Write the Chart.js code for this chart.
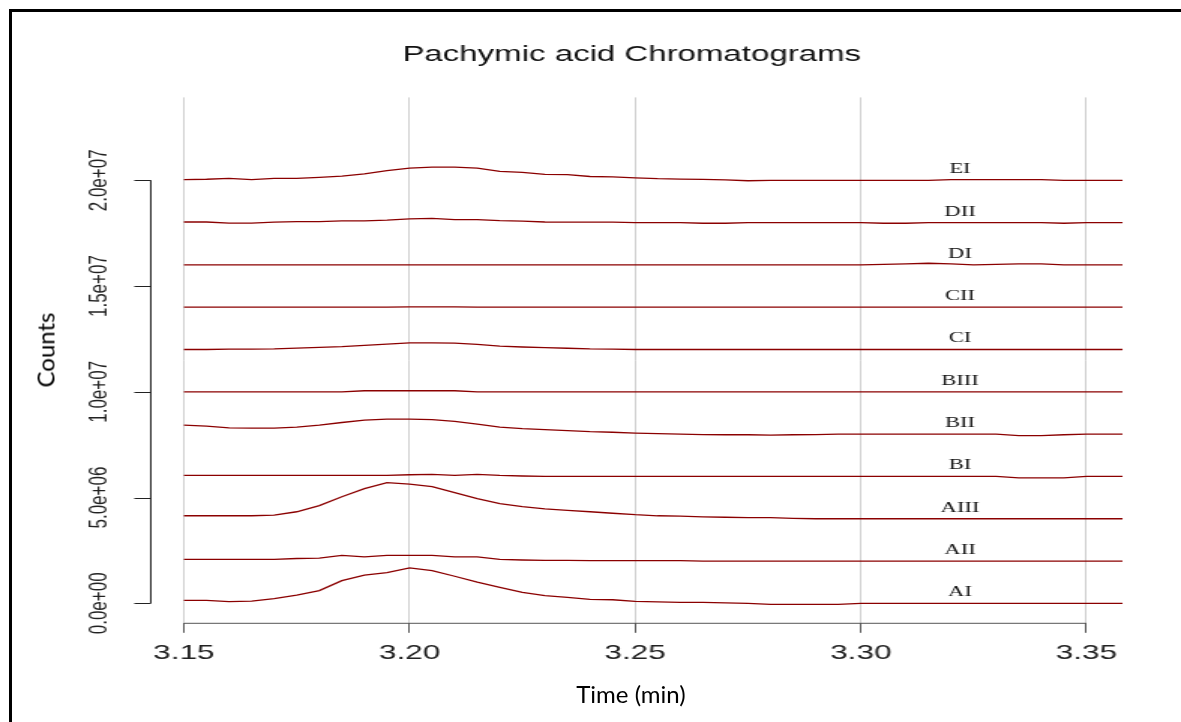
<!DOCTYPE html>
<html>
<head>
<meta charset="utf-8">
<title>Pachymic acid Chromatograms</title>
<script src="https://cdn.jsdelivr.net/npm/chart.js@4.4.1/dist/chart.umd.min.js"></script>
<style>
  html, body { margin: 0; padding: 0; background: #fff; overflow: hidden; }
  #page { position: relative; width: 1181px; height: 722px; overflow: hidden; background: #fff; }
  #frame { position: absolute; left: 9px; top: 9px; width: 1200px; height: 740px; border-left: 3px solid #000; border-top: 3px solid #000; }
  /* the R plot in the reference is stretched horizontally, so the canvas is too */
  #plot { position: absolute; left: 0; top: 0; width: 787px; height: 722px; transform: scaleX(1.5006); transform-origin: 0 0; }
  .cap { position: absolute; font-family: Lato, "Open Sans", sans-serif; font-size: 24px; color: #000; white-space: nowrap; }
  #ytitle { left: 45px; top: 350px; transform: translate(-50%, -50%) rotate(-90deg); }
  #xtitle { left: 631px; top: 693px; transform: translate(-50%, -50%); }
</style>
</head>
<body>
<div id="page">
  <div id="frame"></div>
  <div id="plot"><canvas id="chromChart" width="787" height="722"></canvas></div>
  <div class="cap" id="ytitle">Counts</div>
  <div class="cap" id="xtitle">Time (min)</div>
</div>
<script>
// retention time (min)
const times = [3.150, 3.155, 3.160, 3.165, 3.170, 3.175, 3.180, 3.185, 3.190, 3.195,
  3.200, 3.205, 3.210, 3.215, 3.220, 3.225, 3.230, 3.235, 3.240, 3.245,
  3.250, 3.255, 3.260, 3.265, 3.270, 3.275, 3.280, 3.285, 3.290, 3.295,
  3.300, 3.305, 3.310, 3.315, 3.320, 3.325, 3.330, 3.335, 3.340, 3.345,
  3.350, 3.355, 3.358];

// sample names, bottom to top, and the vertical offset of each trace (millions of counts)
const samples = ['AI', 'AII', 'AIII', 'BI', 'BII', 'BIII', 'CI', 'CII', 'DI', 'DII', 'EI'];
const offsets = [0, 2, 4, 6, 8, 10, 12, 14, 16, 18, 20];

// intensities above each trace's baseline (millions of counts)
const AI = [0.14, 0.14, 0.08, 0.10, 0.22, 0.39, 0.60, 1.07, 1.33, 1.45,
  1.68, 1.55, 1.28, 1.00, 0.76, 0.52, 0.36, 0.28, 0.19, 0.17,
  0.09, 0.07, 0.05, 0.05, 0.02, 0.00, -0.05, -0.05, -0.05, -0.05,
  0.00, 0, 0, 0, 0, 0, 0, 0, 0, 0, 0, 0, 0];
const AII = [0.08, 0.08, 0.08, 0.08, 0.08, 0.12, 0.14, 0.27, 0.20, 0.27,
  0.27, 0.27, 0.20, 0.20, 0.08, 0.05, 0.03, 0.03, 0.02, 0.02,
  0.02, 0.02, 0.02, 0, 0, 0, 0, 0, 0, 0,
  0, 0, 0, 0, 0, 0, 0, 0, 0, 0, 0, 0, 0];
const AIII = [0.14, 0.14, 0.14, 0.14, 0.17, 0.33, 0.62, 1.04, 1.42, 1.71,
  1.64, 1.52, 1.23, 0.95, 0.71, 0.57, 0.47, 0.40, 0.33, 0.26,
  0.19, 0.14, 0.12, 0.09, 0.07, 0.05, 0.05, 0.02, 0, 0,
  0, 0, 0, 0, 0, 0, 0, 0, 0, 0, 0, 0, 0];
const BI = [0.05, 0.05, 0.05, 0.05, 0.05, 0.05, 0.05, 0.05, 0.05, 0.05,
  0.08, 0.10, 0.05, 0.10, 0.05, 0.02, 0, 0, 0, 0,
  0, 0, 0, 0, 0, 0, 0, 0, 0, 0,
  0, 0, 0, 0, 0, 0, 0, -0.07, -0.07, -0.07, 0, 0, 0];
const BII = [0.43, 0.38, 0.30, 0.28, 0.28, 0.33, 0.43, 0.55, 0.66, 0.71,
  0.71, 0.69, 0.60, 0.47, 0.33, 0.26, 0.21, 0.17, 0.12, 0.09,
  0.05, 0.02, 0.00, -0.02, -0.03, -0.03, -0.05, -0.03, -0.02, 0,
  0, 0, 0, 0, 0, 0, 0, -0.07, -0.07, -0.03, 0, 0, 0];
const BIII = [0, 0, 0, 0, 0, 0, 0, 0, 0.05, 0.05,
  0.05, 0.05, 0.05, 0, 0, 0, 0, 0, 0, 0,
  0, 0, 0, 0, 0, 0, 0, 0, 0, 0,
  0, 0, 0, 0, 0, 0, 0, 0, 0, 0, 0, 0, 0];
const CI = [0, 0, 0.02, 0.02, 0.03, 0.07, 0.10, 0.14, 0.20, 0.26,
  0.31, 0.31, 0.30, 0.24, 0.16, 0.12, 0.09, 0.06, 0.03, 0.02,
  0, 0, 0, 0, 0, 0, 0, 0, 0, 0,
  0, 0, 0, 0, 0, 0, 0, 0, 0, 0, 0, 0, 0];
const CII = [0, 0, 0, 0, 0, 0, 0, 0, 0, 0,
  0.02, 0.02, 0.02, 0, 0, 0, 0, 0, 0, 0,
  0, 0, 0, 0, 0, 0, 0, 0, 0, 0,
  0, 0, 0, 0, 0, 0, 0, 0, 0, 0, 0, 0, 0];
const DI = [0, 0, 0, 0, 0, 0, 0, 0, 0, 0,
  0, 0, 0, 0, 0, 0, 0, 0, 0, 0,
  0, 0, 0, 0, 0, 0, 0, 0, 0, 0,
  0, 0.03, 0.05, 0.08, 0.05, 0, 0.03, 0.05, 0.05, 0, 0, 0, 0];
const DII = [0.03, 0.03, -0.02, -0.02, 0.02, 0.05, 0.05, 0.08, 0.08, 0.12,
  0.18, 0.20, 0.14, 0.14, 0.09, 0.07, 0.03, 0.02, 0.02, 0.02,
  0, 0, 0, -0.03, -0.03, 0, 0, 0, 0, 0,
  0, -0.03, -0.03, 0, 0, 0, 0, 0, 0, -0.03, 0, 0, 0];
const EI = [0.03, 0.05, 0.09, 0.03, 0.09, 0.09, 0.14, 0.20, 0.30, 0.46,
  0.58, 0.62, 0.62, 0.58, 0.42, 0.38, 0.28, 0.27, 0.18, 0.16,
  0.12, 0.08, 0.06, 0.04, 0.02, -0.02, 0, 0, 0, 0,
  0, 0, 0, 0, 0.03, 0.03, 0.03, 0.03, 0.03, 0, 0, 0, 0];

const traces = [AI, AII, AIII, BI, BII, BIII, CI, CII, DI, DII, EI];

const xTicks = [3.15, 3.20, 3.25, 3.30, 3.35];
const yTicks = [0, 5, 10, 15, 20];   // millions
const labelX = 3.322;                // where the sample names sit

// R style scientific labels: 5.0e+06
function sci(v) {
  const [m, e] = v.toExponential(1).split('e');
  const n = parseInt(e, 10);
  return m + 'e' + (n < 0 ? '-' : '+') + String(Math.abs(n)).padStart(2, '0');
}

// R draws detached axes (lines only over the tick range) and rotated y labels
const rStyleAxes = {
  id: 'rStyleAxes',
  afterDraw(chart) {
    const { ctx, chartArea, scales: { x, y } } = chart;
    ctx.save();

    ctx.strokeStyle = '#555';
    ctx.lineWidth = 1;
    ctx.beginPath();
    ctx.moveTo(x.getPixelForValue(xTicks[0]), chartArea.bottom + 0.5);
    ctx.lineTo(x.getPixelForValue(xTicks[xTicks.length - 1]), chartArea.bottom + 0.5);
    ctx.stroke();

    const yl = chartArea.left + 0.5;
    ctx.strokeStyle = '#222';
    ctx.beginPath();
    ctx.moveTo(yl, y.getPixelForValue(yTicks[0]));
    ctx.lineTo(yl, y.getPixelForValue(yTicks[yTicks.length - 1]));
    y.ticks.forEach(t => {
      const py = Math.round(y.getPixelForValue(t.value)) + 0.5;
      ctx.moveTo(yl - 11, py);
      ctx.lineTo(yl, py);
    });
    ctx.stroke();

    ctx.fillStyle = '#222';
    ctx.font = '17px "Liberation Sans", Arial, sans-serif';
    ctx.textAlign = 'center';
    ctx.textBaseline = 'middle';
    y.ticks.forEach(t => {
      ctx.save();
      ctx.translate(yl - 34, y.getPixelForValue(t.value));
      ctx.rotate(-Math.PI / 2);
      ctx.fillText(sci(t.value * 1e6), 0, 0);
      ctx.restore();
    });

    // sample names above each trace
    ctx.fillStyle = '#111';
    ctx.font = '15px "Liberation Serif", "Times New Roman", serif';
    const lx = x.getPixelForValue(labelX);
    samples.forEach((name, i) => {
      ctx.fillText(name, lx, y.getPixelForValue(offsets[i]) - 11);
    });
    ctx.restore();
  }
};

const datasets = samples.map((name, i) => ({
  label: name,
  data: times.map((t, j) => ({ x: t, y: offsets[i] + traces[i][j] })),
  borderColor: '#8b0000',
  borderWidth: 1.3,
  pointRadius: 0,
  tension: 0,
  fill: false
}));

new Chart(document.getElementById('chromChart'), {
  type: 'line',
  data: { datasets },
  plugins: [rStyleAxes],
  options: {
    responsive: false,
    animation: false,
    layout: { padding: { left: 69, right: 14, top: 12, bottom: 48 } },
    scales: {
      x: {
        type: 'linear',
        min: 3.1425,
        max: 3.3663,
        afterBuildTicks: s => { s.ticks = xTicks.map(v => ({ value: v })); },
        grid: { color: '#cfcfcf', lineWidth: 1, tickColor: '#555', tickLength: 10 },
        border: { display: false },
        ticks: {
          callback: v => v.toFixed(2),
          font: { family: '"Liberation Sans", Arial, sans-serif', size: 21 },
          color: '#222',
          padding: 8,
          autoSkip: false,
          maxRotation: 0
        }
      },
      y: {
        type: 'linear',
        min: -0.92,
        max: 23.92,
        afterBuildTicks: s => { s.ticks = yTicks.map(v => ({ value: v })); },
        afterFit: s => { s.width = 31; },
        grid: { display: false, drawTicks: false },
        border: { display: false },
        ticks: { display: false }
      }
    },
    plugins: {
      legend: { display: false },
      tooltip: { enabled: false },
      title: {
        display: true,
        text: 'Pachymic acid Chromatograms',
        color: '#111',
        font: { family: '"Liberation Sans", Arial, sans-serif', size: 22, weight: 'normal' },
        padding: { top: 30, bottom: 29 }
      }
    }
  }
});
</script>
</body>
</html>
